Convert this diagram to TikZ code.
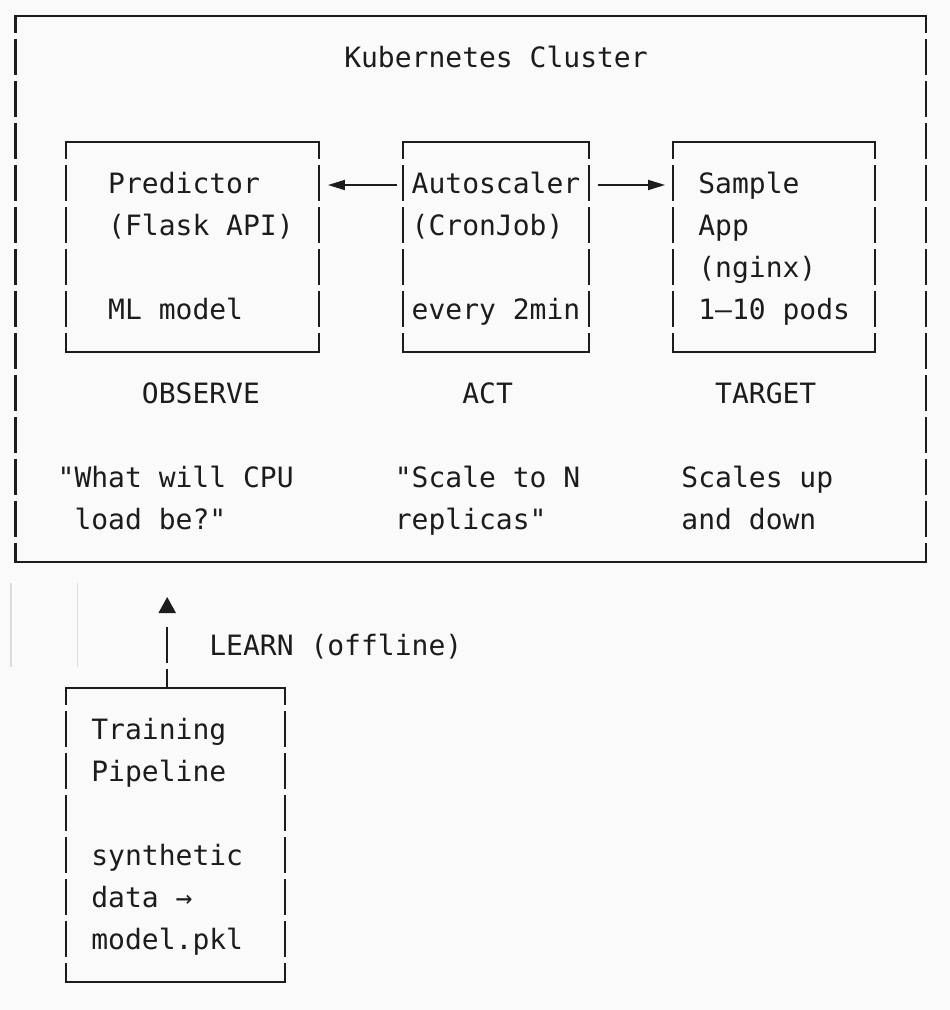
\documentclass[tikz,border=0pt]{standalone}
\usepackage{fontspec}
\setmonofont{DejaVu Sans Mono}
\usetikzlibrary{arrows.meta}
\definecolor{bg}{RGB}{250,250,250}
\definecolor{ink}{RGB}{28,28,28}
\definecolor{guidegray}{RGB}{220,220,220}

% box drawn like box-drawing characters: solid horizontals, broken verticals
\newcommand{\asciibox}[5]{%
  \pgfmathsetmacro{\bxa}{15.5+16.86*#2}%
  \pgfmathsetmacro{\bya}{16+42*#3}%
  \pgfmathsetmacro{\bxb}{15.5+16.86*#4}%
  \pgfmathsetmacro{\byb}{16+42*#5}%
  \pgfmathsetmacro{\bw}{\bxb-\bxa}%
  \pgfmathsetmacro{\bh}{\byb-\bya}%
  \node[boxshape, minimum width=\bw pt, minimum height=\bh pt] (#1) at ({(\bxa+\bxb)/2},{(\bya+\byb)/2}) {};
  \draw[hline] (#1.north west) -- (#1.north east);
  \draw[hline] (#1.south west) -- (#1.south east);
  \draw[vline] (#1.north west) -- (#1.south west);
  \draw[vline] (#1.north east) -- (#1.south east);
}
% text placed on the character grid
\newcommand{\ascii}[4]{\node[monotext] (#1) at ({7.07+16.86*#2},{25.5+42*#3}) {#4};}

\begin{document}
\begin{tikzpicture}[x=1pt,y=-1pt,
  boxshape/.style={rectangle, draw=none, inner sep=0pt, outer sep=0pt},
  hline/.style={draw=ink, line width=2.2pt, line cap=rect},
  vline/.style={draw=ink, line width=2.2pt, dash pattern=on 35.7pt off 6.3pt, dash phase=18.7pt},
  monotext/.style={anchor=base west, inner sep=0pt, outer sep=0pt, text=ink, font=\ttfamily\fontsize{28}{42}\selectfont},
  flow/.style={draw=ink, line width=1.8pt, -{Triangle[length=17pt 0, width=10pt 0]}},
  learnflow/.style={draw=ink, line width=2.2pt, dash pattern=on 18.7pt off 6pt on 36pt off 60pt, -{Triangle[length=16pt 0, width=17pt 0]}},
  guideline/.style={draw=guidegray, line width=1.3pt}
]
\fill[bg] (0,0) rectangle (950,1010);
\useasboundingbox (0,0) rectangle (950,1010);

% boxes
\asciibox{cluster}{0}{0}{54}{13}
\asciibox{pred}{3}{3}{18}{8}
\asciibox{auto}{23}{3}{34}{8}
\asciibox{app}{39}{3}{51}{8}
\asciibox{train}{3}{16}{16}{23}

% texts
\ascii{title}{20}{1}{Kubernetes Cluster}
\ascii{p1}{6}{4}{Predictor}
\ascii{p2}{6}{5}{(Flask API)}
\ascii{p3}{6}{7}{ML model}
\ascii{a1}{24}{4}{Autoscaler}
\ascii{a2}{24}{5}{(CronJob)}
\ascii{a3}{24}{7}{every 2min}
\ascii{s1}{41}{4}{Sample}
\ascii{s2}{41}{5}{App}
\ascii{s3}{41}{6}{(nginx)}
\ascii{s4}{41}{7}{1–10 pods}
\ascii{l1}{8}{9}{OBSERVE}
\ascii{l2}{27}{9}{ACT}
\ascii{l3}{42}{9}{TARGET}
\ascii{q1}{3}{11}{"What will CPU}
\ascii{q2}{4}{12}{load be?"}
\ascii{q3}{23}{11}{"Scale to N}
\ascii{q4}{23}{12}{replicas"}
\ascii{q5}{40}{11}{Scales up}
\ascii{q6}{40}{12}{and down}
\ascii{learn}{12}{15}{LEARN (offline)}
\ascii{t1}{5}{17}{Training}
\ascii{t2}{5}{18}{Pipeline}
\ascii{t3}{5}{20}{synthetic}
\ascii{t4}{5}{21}{data →}
\ascii{t5}{5}{22}{model.pkl}

% connectors
\coordinate (arow) at (0,185);
\coordinate (learnx) at (167.2,0);
\draw[flow, shorten >=9pt, shorten <=6pt] (auto.west |- arow) -- (pred.east |- arow);
\draw[flow, shorten <=9pt, shorten >=8pt] (auto.east |- arow) -- (app.west |- arow);
\draw[learnflow, shorten >=35pt] (train.north -| learnx) -- (cluster.south -| learnx);

% faint guide lines
\draw[guideline] (11,583) -- (11,667);
\draw[guideline] (77.7,583) -- (77.7,667);
\end{tikzpicture}
\end{document}
